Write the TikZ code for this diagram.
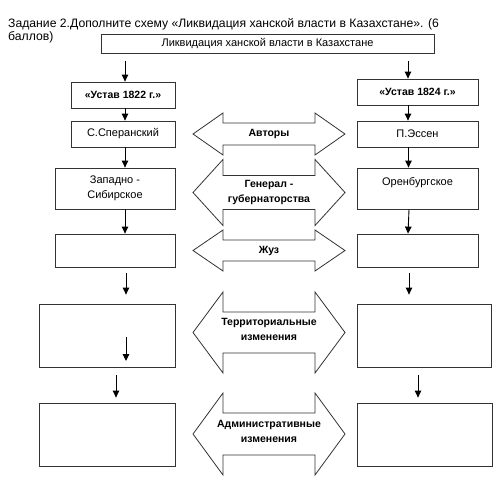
\documentclass[tikz,border=0pt]{standalone}
\usepackage{fontspec}
\setmainfont{Liberation Sans}
\usetikzlibrary{arrows.meta}
\tikzset{
  x=1pt, y=-1pt,
  box/.style={draw=black!80, line width=0.8pt, inner sep=0pt, align=center, font=\fontsize{11}{15}\selectfont},
  boldbox/.style={box, font=\fontsize{10.5}{15}\selectfont\bfseries},
  arr/.style={draw=black, line width=0.9pt, -{Triangle[length=7pt,width=6.5pt]}},
  dbl/.style={draw=black!80, line width=0.8pt, line join=miter},
  mid/.style={align=center, inner sep=0pt, font=\fontsize{10.5}{15}\selectfont\bfseries},
}
\newcommand{\dbar}[6]{%
  \draw[dbl] (193,#2) -- (223,#2-#4) -- (223,#2-#3) -- (315,#2-#3) -- (315,#2-#4) -- (345,#2)
    -- (315,#2+#4) -- (315,#2+#3) -- (223,#2+#3) -- (223,#2+#4) -- cycle;
  \node[mid] (#1) at (269,#2+#6) {#5};}
\begin{document}
\begin{tikzpicture}
\useasboundingbox[fill=white] (0,0) rectangle (500,489);
% title
\node[anchor=north west, inner sep=0pt, align=left, font=\fontsize{12.2}{12.5}\selectfont] (title) at (8,18.5)
  {Задание 2.Дополните схему «Ликвидация ханской власти в Казахстане». (6\\баллов)};
% boxes
\node[box, minimum width=333, minimum height=19] (top) at (267.5,43.5) {Ликвидация ханской власти в Казахстане};
\node[boldbox, minimum width=104, minimum height=26] (u1822) at (123,95) {«Устав 1822 г.»};
\node[boldbox, minimum width=121, minimum height=26] (u1824) at (417.5,92) {«Устав 1824 г.»};
\node[box, minimum width=104, minimum height=26] (sper) at (123,134) {С.Сперанский};
\node[box, minimum width=121, minimum height=26] (essen) at (417.5,134) {П.Эссен};
\node[box, minimum width=120, minimum height=41] (zap) at (115,188.5) {Западно -\\Сибирское};
\node[box, minimum width=121, minimum height=41] (oren) at (417.5,188.5) {Оренбургское\\\mbox{}};
\node[box, minimum width=120, minimum height=33] (b3L) at (115,250.5) {};
\node[box, minimum width=121, minimum height=33] (b3R) at (417.5,250.5) {};
\node[box, minimum width=136, minimum height=63] (b4L) at (107,335.5) {};
\node[box, minimum width=134, minimum height=63] (b4R) at (424,335.5) {};
\node[box, minimum width=136, minimum height=63] (b5L) at (107,434.5) {};
\node[box, minimum width=135, minimum height=63] (b5R) at (424.5,434.5) {};
% connectors left
\draw[arr, shorten <=8] ([xshift=2]u1822.north |- top.south) -- ([xshift=2]u1822.north);
\draw[arr] ([xshift=2]u1822.south) -- ([xshift=2]sper.north);
\draw[arr] ([xshift=2]sper.south) -- ([xshift=2]sper.south |- zap.north);
\draw[arr] ([xshift=2]sper.south |- zap.south) -- ([xshift=2]sper.south |- b3L.north);
\draw[arr, shorten <=6, shorten >=9] ([xshift=3]sper.south |- b3L.south) -- ([xshift=3]sper.south |- b4L.north);
\coordinate (inA) at (126,337);
\coordinate (inB) at (126,361);
\draw[arr] (inA) -- (inB);
\draw[arr, shorten <=8, shorten >=5] ([xshift=9]b4L.south) -- ([xshift=9]b5L.north);
% connectors right
\draw[arr, shorten <=8] ([xshift=-9.5]u1824.north |- top.south) -- ([xshift=-9.5]u1824.north);
\draw[arr] ([xshift=-9.5]u1824.south) -- ([xshift=-9.5]essen.north);
\draw[arr] ([xshift=-9]essen.south) -- ([xshift=-9]oren.north);
\draw[arr] ([xshift=-8.5]oren.south) -- ([xshift=-9.5]b3R.north);
\draw[arr, shorten <=6, shorten >=9] ([xshift=-8.5]b3R.south) -- ([xshift=-8.5]b3R.south |- b4R.north);
\draw[arr, shorten <=8, shorten >=5] ([xshift=-6]b4R.south) -- ([xshift=-6.5]b5R.north);
% double arrows
\dbar{a1}{134}{11}{21}{Авторы}{0}
\dbar{a2}{192.5}{17}{33}{Генерал -\\губернаторства}{0}
\dbar{a3}{250.5}{10.5}{20.5}{Жуз}{0}
\dbar{a4}{332.5}{20.5}{40.5}{Территориальные\\изменения}{-3}
\dbar{a5}{434}{21}{41}{Административные\\изменения}{-3}
\end{tikzpicture}
\end{document}
